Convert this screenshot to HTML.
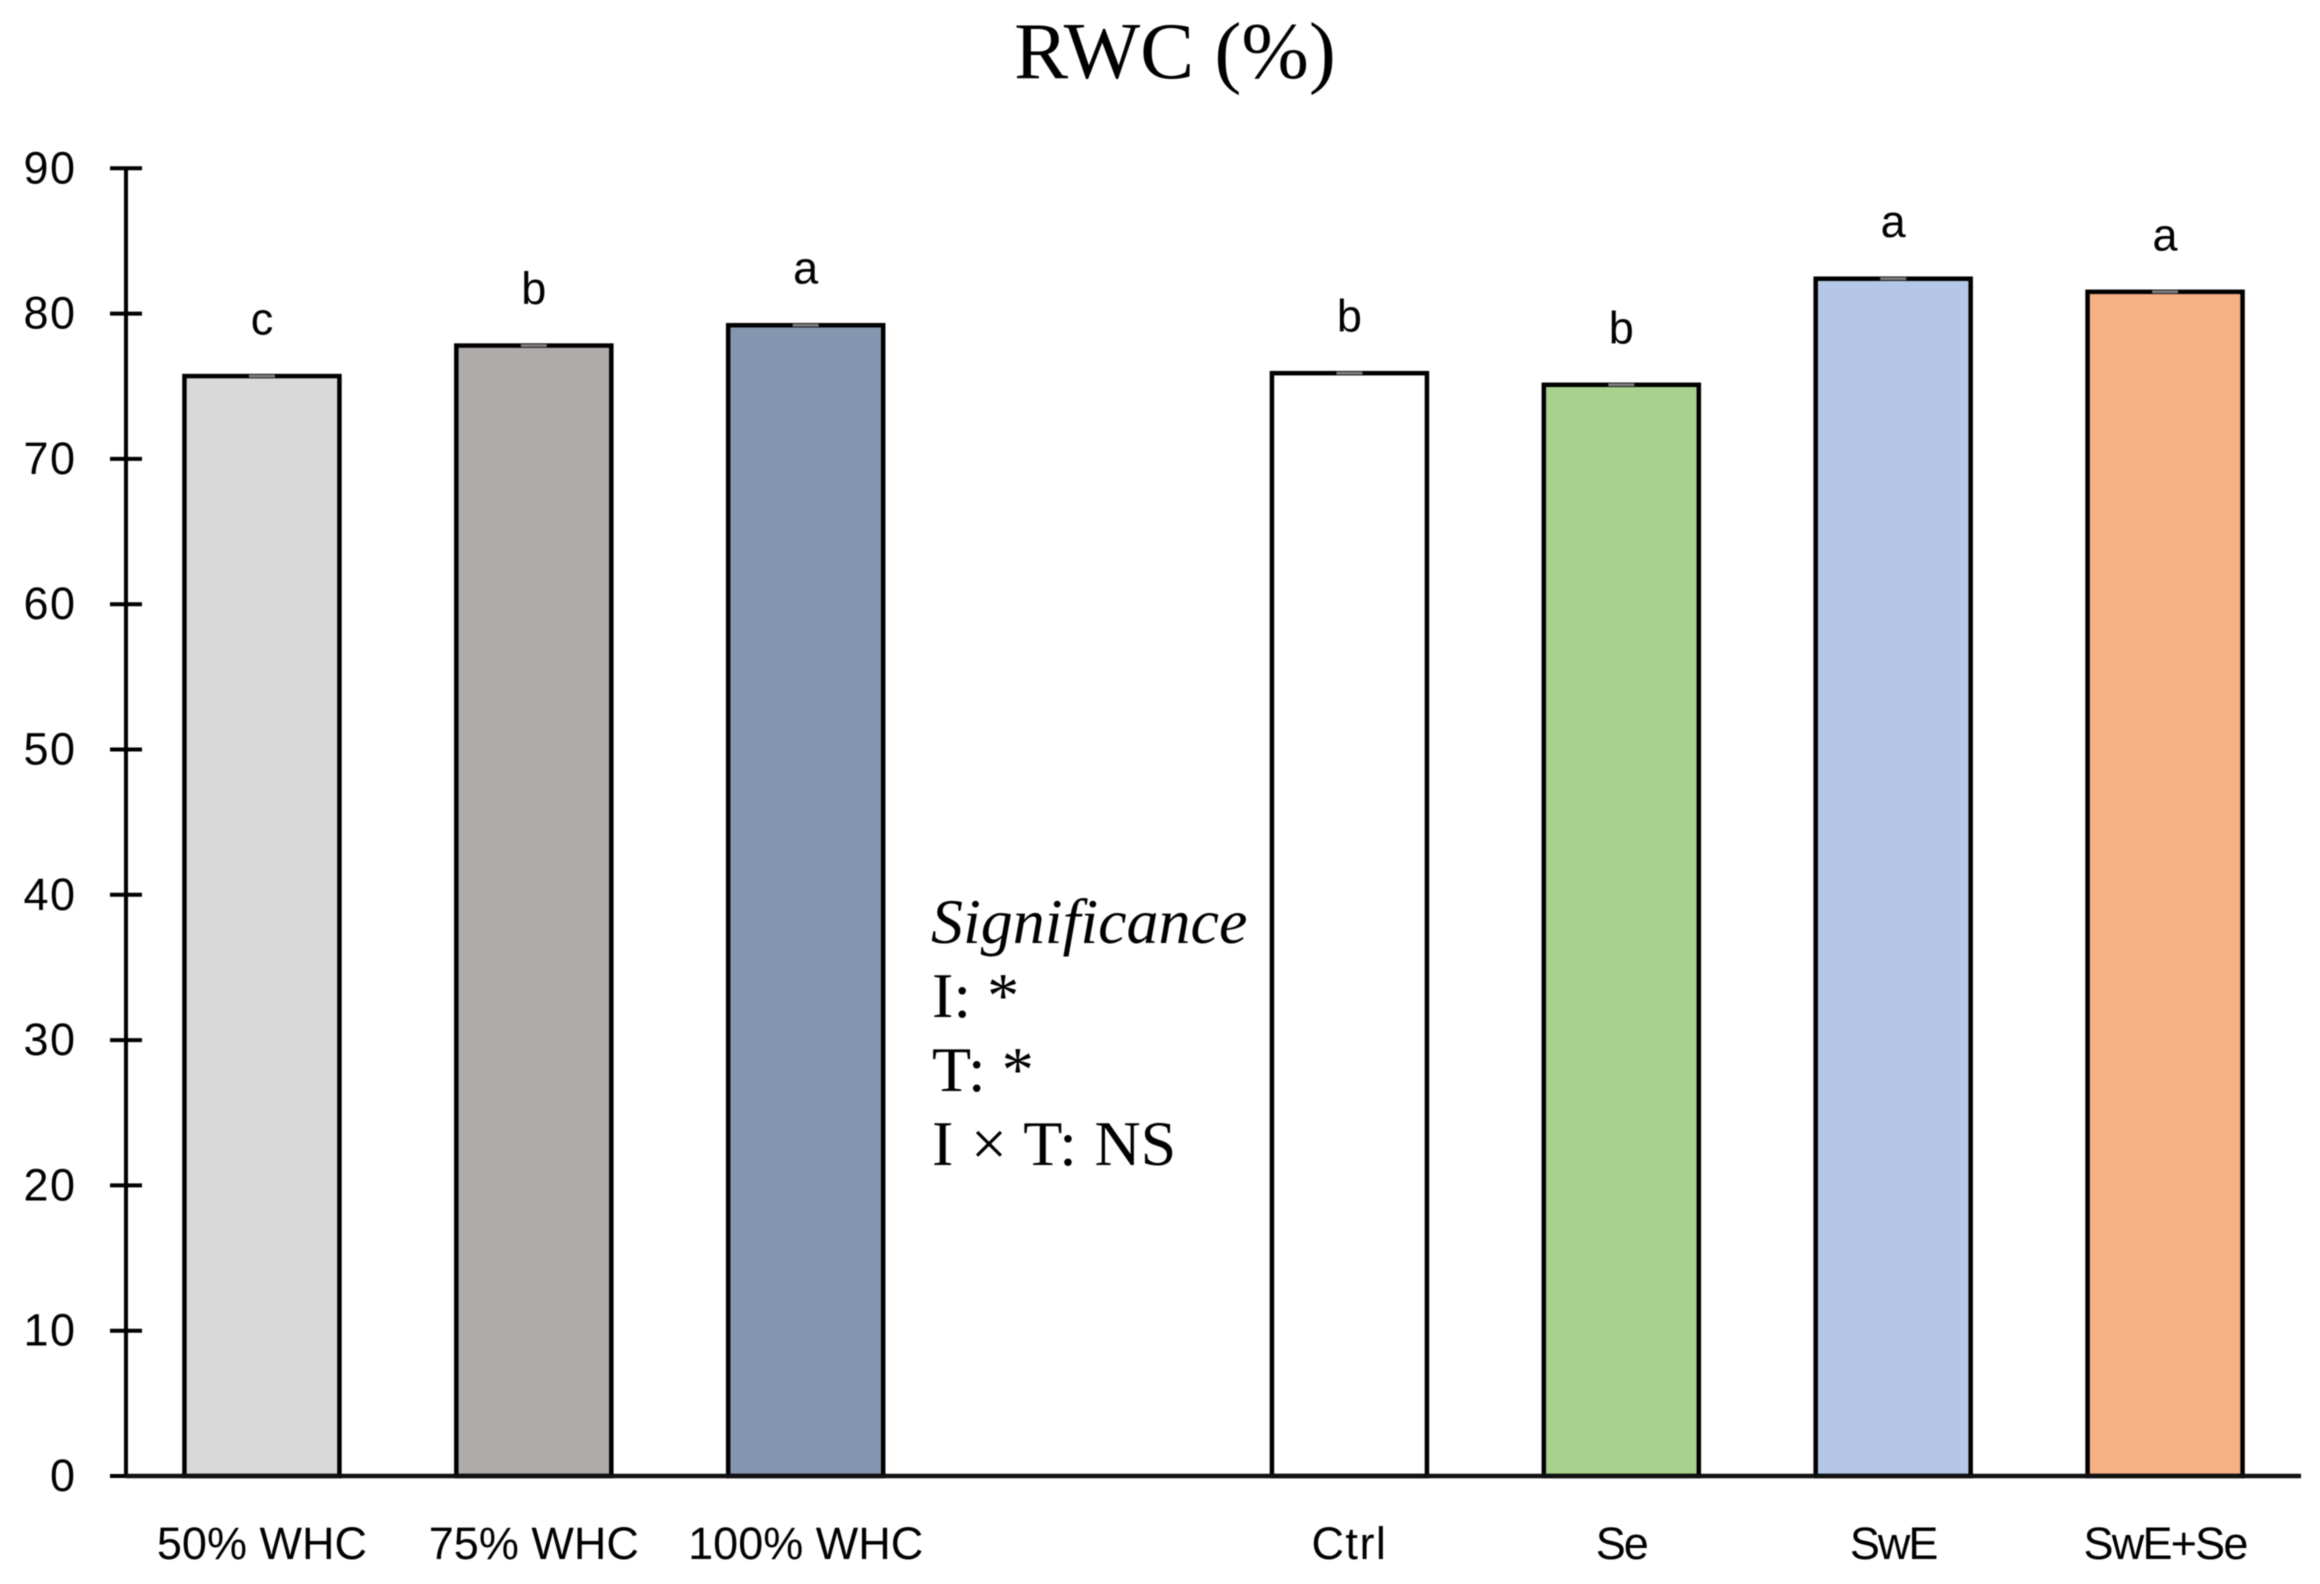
<!DOCTYPE html>
<html lang="en">
<head>
<meta charset="utf-8">
<title>RWC (%)</title>
<style>
html,body{margin:0;padding:0;background:#fff;}
body{width:2320px;height:1584px;overflow:hidden;}
svg{display:block;filter:blur(0.6px);}
.sans{font-family:"Liberation Sans",sans-serif;font-size:45px;fill:#000;}
.serif{font-family:"Liberation Serif",serif;fill:#000;}
</style>
</head>
<body>
<svg id="chart" xmlns="http://www.w3.org/2000/svg" width="2320" height="1584" viewBox="0 0 2320 1584">
  <rect x="0" y="0" width="2320" height="1584" fill="#ffffff"/>
  <text class="serif" x="1175" y="78" font-size="81" text-anchor="middle">RWC (%)</text>
  <g class="serif" font-size="64">
    <text x="931" y="943" font-style="italic">Significance</text>
    <text x="932" y="1017">I: *</text>
    <text x="932" y="1091">T: *</text>
    <text x="932" y="1165" word-spacing="1.5">I × T: NS</text>
  </g>
</svg>
<script>
const categories = ['50% WHC', '75% WHC', '100% WHC', '', 'Ctrl', 'Se', 'SwE', 'SwE+Se'];
const rwcValues = [75.7, 77.8, 79.2, null, 75.9, 75.1, 82.4, 81.5];
const errorValues = [0.1, 0.1, 0.1, null, 0.1, 0.1, 0.1, 0.1];
const groupLetters = ['c', 'b', 'a', '', 'b', 'b', 'a', 'a'];
const barColors = ['#d9d9d9', '#afabaa', '#8497b0', '', '#ffffff', '#a9d18e', '#b4c7e7', '#f4b183'];
const yTicks = [0, 10, 20, 30, 40, 50, 60, 70, 80, 90];

const svg = document.getElementById('chart');
const NS = 'http://www.w3.org/2000/svg';
const plot = { left: 126, right: 2301, top: 168.3, bottom: 1476, yMax: 90 };
const band = (plot.right - plot.left) / categories.length;
const barWidth = 155;
const ink = '#000000';
const labelTracking = { 'Ctrl': 1.5, 'Se': -2, 'SwE': -2, 'SwE+Se': -1.8 };

function xCenter(i) {
  return plot.left + band * (i + 0.5);
}
function yScale(v) {
  return plot.bottom - (v / plot.yMax) * (plot.bottom - plot.top);
}
function make(tag, attrs, text) {
  const el = document.createElementNS(NS, tag);
  for (const key in attrs) el.setAttribute(key, attrs[key]);
  if (text !== undefined) el.textContent = text;
  svg.appendChild(el);
  return el;
}

categories.forEach(function (name, i) {
  if (rwcValues[i] === null) return;
  const slug = name.toLowerCase().replace(/[^a-z0-9]+/g, '-');
  const cx = xCenter(i);
  const top = yScale(rwcValues[i]);

  const bar = make('rect', {
    x: cx - barWidth / 2, y: top, width: barWidth, height: plot.bottom - top,
    fill: barColors[i], stroke: ink, 'stroke-width': 4.5
  });
  
  

  const errTop = yScale(rwcValues[i] + errorValues[i]);
  const errBottom = yScale(rwcValues[i] - errorValues[i]);
  const err = make('rect', {
    x: cx - 13, y: errTop, width: 26, height: errBottom - errTop, fill: '#7d7d7d'
  });
  
  

  const letter = make('text', {
    class: 'sans', x: cx, y: top - 41.5, 'text-anchor': 'middle'
  }, groupLetters[i]);
  
  

  const label = make('text', {
    class: 'sans', x: cx, y: 1559, 'text-anchor': 'middle',
    'letter-spacing': labelTracking[name] || 0
  }, name);
  
  
});

const yAxis = make('line', {
  x1: plot.left, x2: plot.left, y1: yScale(plot.yMax), y2: plot.bottom,
  stroke: ink, 'stroke-width': 4
});



yTicks.forEach(function (t) {
  const y = yScale(t);
  const tick = make('line', {
    x1: 110, x2: t === 0 ? plot.left : 142, y1: y, y2: y,
    stroke: ink, 'stroke-width': 4
  });
  
  

  const label = make('text', {
    class: 'sans', x: 76.5, y: y + 15, 'text-anchor': 'end', 'letter-spacing': 1.5
  }, String(t));
  
  
});

const xAxis = make('line', {
  x1: plot.left, x2: plot.right, y1: plot.bottom, y2: plot.bottom,
  stroke: '#111111', 'stroke-width': 4.5
});


</script>
</body>
</html>
